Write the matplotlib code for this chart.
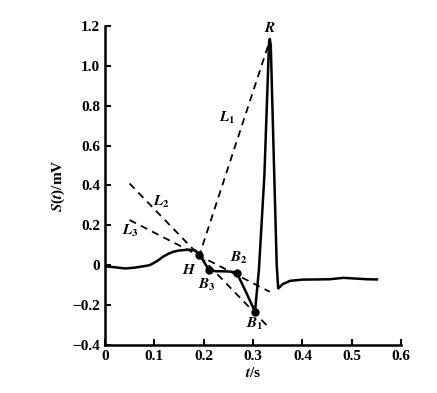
import numpy as np
import matplotlib
matplotlib.use("Agg")
import matplotlib.pyplot as plt

plt.rcParams['font.family'] = ['Liberation Serif', 'DejaVu Serif']
plt.rcParams['mathtext.fontset'] = 'stix'

# ECG trace
t = [0.0, 0.02, 0.041, 0.06, 0.078, 0.09, 0.098, 0.108, 0.118, 0.128, 0.139, 0.15,
     0.159, 0.17, 0.182, 0.191, 0.2, 0.211, 0.225, 0.24, 0.255, 0.267, 0.285,
     0.304, 0.312, 0.323, 0.3325, 0.334, 0.336, 0.343, 0.348, 0.351, 0.36, 0.375, 0.4,
     0.429, 0.455, 0.483, 0.51, 0.53, 0.551]
s = [-0.005, -0.01, -0.016, -0.012, -0.005, 0.0, 0.01, 0.025, 0.043, 0.057, 0.068, 0.074,
     0.076, 0.078, 0.076, 0.056, 0.02, -0.024, -0.03, -0.03, -0.032, -0.037, -0.13,
     -0.233, -0.02, 0.45, 1.12, 1.135, 1.1, 0.45, 0.0, -0.116, -0.095, -0.078, -0.072,
     -0.071, -0.07, -0.063, -0.067, -0.07, -0.071]

# key points
pt_names = ['H', 'B_3', 'B_2', 'B_1', 'R']
pt_t = [0.19, 0.211, 0.267, 0.304, 0.334]
pt_s = [0.05, -0.024, -0.037, -0.233, 1.13]

# dashed lines (start, end)
L1 = ([0.19, 0.333], [0.04, 1.12])
L2 = ([0.05, 0.334], [0.41, -0.317])
L3 = ([0.05, 0.334], [0.227, -0.133])

fig = plt.figure(figsize=(4.37, 3.93), dpi=100)
ax = fig.add_axes([0.240, 0.122, 0.678, 0.812])

ax.plot(t, s, color='black', lw=1.8)
for xs, ys in (L1, L2, L3):
    ax.plot(xs, ys, color='black', lw=1.3, ls=(0, (4, 3)))
ax.plot(pt_t[:4], pt_s[:4], 'o', color='black', ms=5)

lab = dict(fontsize=11, fontweight='bold', ha='center', va='center')
ax.text(0.334, 1.19, r'$\boldsymbol{R}$', **lab)
ax.text(0.247, 0.74, r'$\boldsymbol{L}_{\mathbf{1}}$', **lab)
ax.text(0.115, 0.32, r'$\boldsymbol{L}_{\mathbf{2}}$', **lab)
ax.text(0.052, 0.17, r'$\boldsymbol{L}_{\mathbf{3}}$', **lab)
ax.text(0.171, -0.024, r'$\boldsymbol{H}$', **lab)
ax.text(0.206, -0.1, r'$\boldsymbol{B}_{\mathbf{3}}$', **lab)
ax.text(0.272, 0.035, r'$\boldsymbol{B}_{\mathbf{2}}$', **lab)
ax.text(0.304, -0.295, r'$\boldsymbol{B}_{\mathbf{1}}$', **lab)

ax.set_xlim(0, 0.6)
ax.set_ylim(-0.4, 1.2)
ax.set_xticks([0, 0.1, 0.2, 0.3, 0.4, 0.5, 0.6])
ax.set_xticklabels(['0', '0.1', '0.2', '0.3', '0.4', '0.5', '0.6'])
ax.set_yticks([-0.4, -0.2, 0, 0.2, 0.4, 0.6, 0.8, 1.0, 1.2])
ax.set_yticklabels(['\u22120.4', '\u22120.2', '0', '0.2', '0.4', '0.6', '0.8', '1.0', '1.2'])
ax.tick_params(direction='in', length=4, width=1.5, labelsize=11)
for lbl in ax.get_xticklabels() + ax.get_yticklabels():
    lbl.set_fontweight('bold')
ax.spines['top'].set_visible(False)
ax.spines['right'].set_visible(False)
ax.spines['left'].set_linewidth(1.8)
ax.spines['bottom'].set_linewidth(1.8)

ax.set_xlabel(r'$\boldsymbol{t}$/s', fontsize=11, fontweight='bold', labelpad=2)
ax.set_ylabel(r'$\boldsymbol{S}$($\boldsymbol{t}$)/mV', fontsize=11, fontweight='bold', labelpad=4)

fig.savefig('out.png', dpi=100)
